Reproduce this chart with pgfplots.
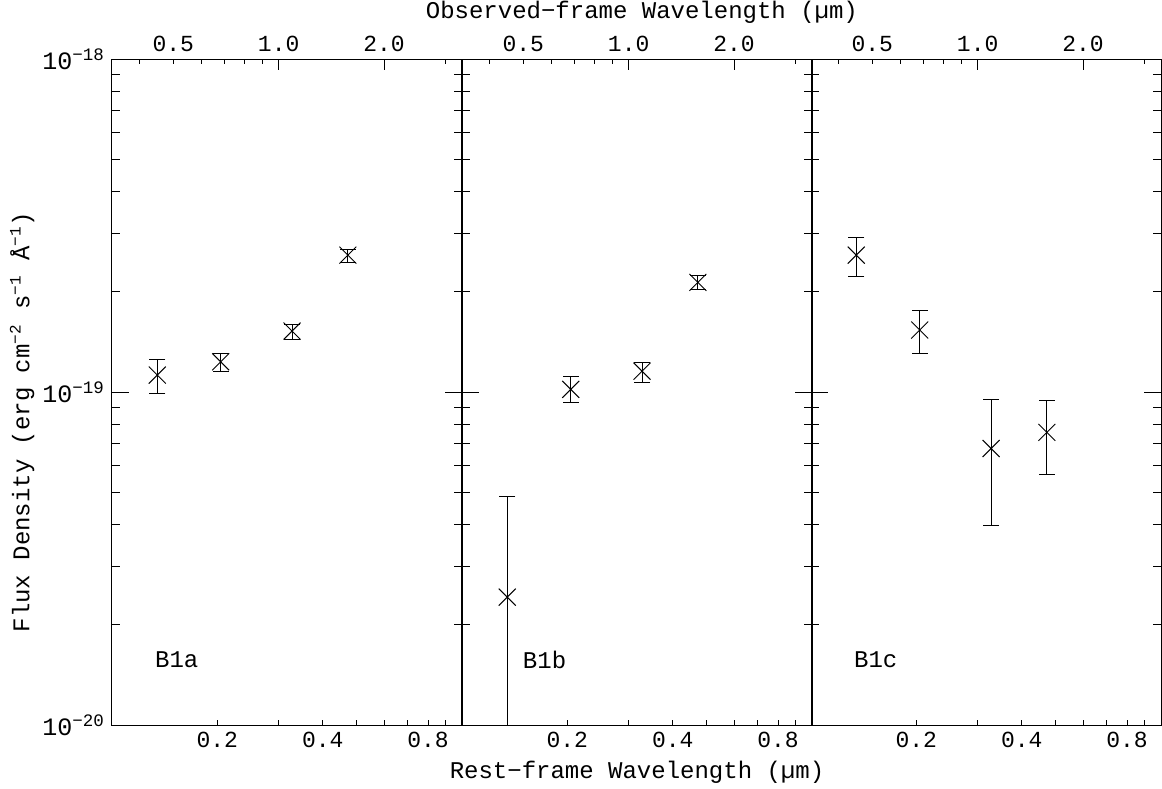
\documentclass[border=0pt]{standalone}
\usepackage{fontspec}
\setmainfont{Liberation Mono}
\usepackage{pgfplots}
\pgfplotsset{compat=1.18}

\newcommand\fs{\fontsize{12}{14}\selectfont}
\newcommand\tfs{\fontsize{11.5}{13}\selectfont}

\pgfplotsset{
  pnlcommon/.style={
    scale only axis, width=175pt, height=333pt,
    ymin=1e-20, ymax=1e-18,
    axis line style={line width=0.5pt},
    every tick/.style={black, line width=0.5pt},
    tick align=inside,
    tick label style={font=\tfs},
    label style={font=\fs},
  },
  % y ticks and the data
  pnly/.style={
    pnlcommon, xmin=0.1, xmax=1,
    xtick=\empty,
    ytick={1e-20,1e-19,1e-18},
    minor ytick={2e-20,3e-20,4e-20,5e-20,6e-20,7e-20,8e-20,9e-20,
                 2e-19,3e-19,4e-19,5e-19,6e-19,7e-19,8e-19,9e-19},
    ytick pos=both,
    major tick length=8.5pt, minor tick length=4pt,
    yticklabels={},
    yticklabel style={font=\fontsize{12.5}{14}\selectfont},
  },
  % rest-frame axis, bottom
  pnlbot/.style={
    pnlcommon, xmin=0.1, xmax=1,
    ytick=\empty,
    xtick={0.2,0.4,0.8}, xticklabels={0.2,0.4,0.8},
    minor xtick={0.3,0.5,0.6,0.7,0.9},
    xtick pos=bottom,
    major tick length=2.5pt, minor tick length=2.5pt,
    xlabel style={at={(axis description cs:0.5,-0.0706)}, anchor=center},
  },
  % observed-frame axis, top (z = 2.34)
  pnltop/.style={
    pnlcommon, xmin=0.334, xmax=3.34,
    ytick=\empty,
    xtick={1,2}, xticklabels={1.0,2.0},
    extra x ticks={0.5}, extra x tick labels={0.5},
    extra x tick style={major tick length=2.5pt},
    minor xtick={0.4,0.6,0.7,0.8,0.9,3},
    xtick pos=top,
    major tick length=5.5pt, minor tick length=2.5pt,
    xlabel style={at={(axis description cs:0.514,1.0706)}, anchor=center},
  },
  sedpts/.style={only marks, mark=x, mark size=6pt, black, mark options={line width=0.5pt}},
  sederr/.style={black, line width=0.5pt, unbounded coords=jump,
    mark=-, mark size=4pt, mark options={line width=0.5pt}},
}

\begin{document}
\begin{tikzpicture}
\useasboundingbox (-56pt,-31.5pt) rectangle (525pt,362.5pt);

%--------------------------------------------------
% B1a
%--------------------------------------------------
\begin{loglogaxis}[pnly, at={(0pt,0pt)},
  yticklabels={10\textsuperscript{−20},10\textsuperscript{−19},10\textsuperscript{−18}},
  ylabel={Flux Density (erg cm\textsuperscript{−2} s\textsuperscript{−1} Å\textsuperscript{−1})},
  ylabel style={at={(axis description cs:-0.257,0.455)}, anchor=center},
]
\addplot[sederr] coordinates {
  (0.1347,9.91e-20) (0.1347,1.254e-19) (nan,nan)
  (0.2045,1.151e-19) (0.2045,1.307e-19) (nan,nan)
  (0.327,1.443e-19) (0.327,1.600e-19) (nan,nan)
  (0.472,2.452e-19) (0.472,2.688e-19)
};
\addplot[sedpts] coordinates {
  (0.1347,1.125e-19) (0.2045,1.233e-19) (0.327,1.525e-19) (0.472,2.578e-19)
};
\node[anchor=west, font=\fs] at (rel axis cs:0.103,0.098) {B1a};
\end{loglogaxis}
\begin{loglogaxis}[pnlbot, at={(0pt,0pt)}]\end{loglogaxis}
\begin{loglogaxis}[pnltop, at={(0pt,0pt)}]\end{loglogaxis}

%--------------------------------------------------
% B1b
%--------------------------------------------------
\begin{loglogaxis}[pnly, at={(175pt,0pt)}]
\addplot[sederr] coordinates {
  (0.1347,5e-21) (0.1347,4.85e-20) (nan,nan)
  (0.2045,9.28e-20) (0.2045,1.111e-19) (nan,nan)
  (0.327,1.07e-19) (0.327,1.228e-19) (nan,nan)
  (0.472,2.034e-19) (0.472,2.235e-19)
};
\addplot[sedpts] coordinates {
  (0.1347,2.423e-20) (0.2045,1.019e-19) (0.327,1.156e-19) (0.472,2.135e-19)
};
\node[anchor=west, font=\fs] at (rel axis cs:0.154,0.098) {B1b};
\end{loglogaxis}
\begin{loglogaxis}[pnlbot, at={(175pt,0pt)}, xlabel={Rest−frame Wavelength (µm)}]\end{loglogaxis}
\begin{loglogaxis}[pnltop, at={(175pt,0pt)}, xlabel={Observed−frame Wavelength (µm)}]\end{loglogaxis}

%--------------------------------------------------
% B1c
%--------------------------------------------------
\begin{loglogaxis}[pnly, at={(349.5pt,0pt)}]
\addplot[sederr] coordinates {
  (0.1347,2.219e-19) (0.1347,2.914e-19) (nan,nan)
  (0.2045,1.307e-19) (0.2045,1.754e-19) (nan,nan)
  (0.327,3.99e-20) (0.327,9.53e-20) (nan,nan)
  (0.472,5.67e-20) (0.472,9.46e-20)
};
\addplot[sedpts] coordinates {
  (0.1347,2.578e-19) (0.2045,1.536e-19) (0.327,6.77e-20) (0.472,7.57e-20)
};
\node[anchor=west, font=\fs] at (rel axis cs:0.103,0.098) {B1c};
\end{loglogaxis}
\begin{loglogaxis}[pnlbot, at={(349.5pt,0pt)}]\end{loglogaxis}
\begin{loglogaxis}[pnltop, at={(349.5pt,0pt)}]\end{loglogaxis}

\end{tikzpicture}
\end{document}
